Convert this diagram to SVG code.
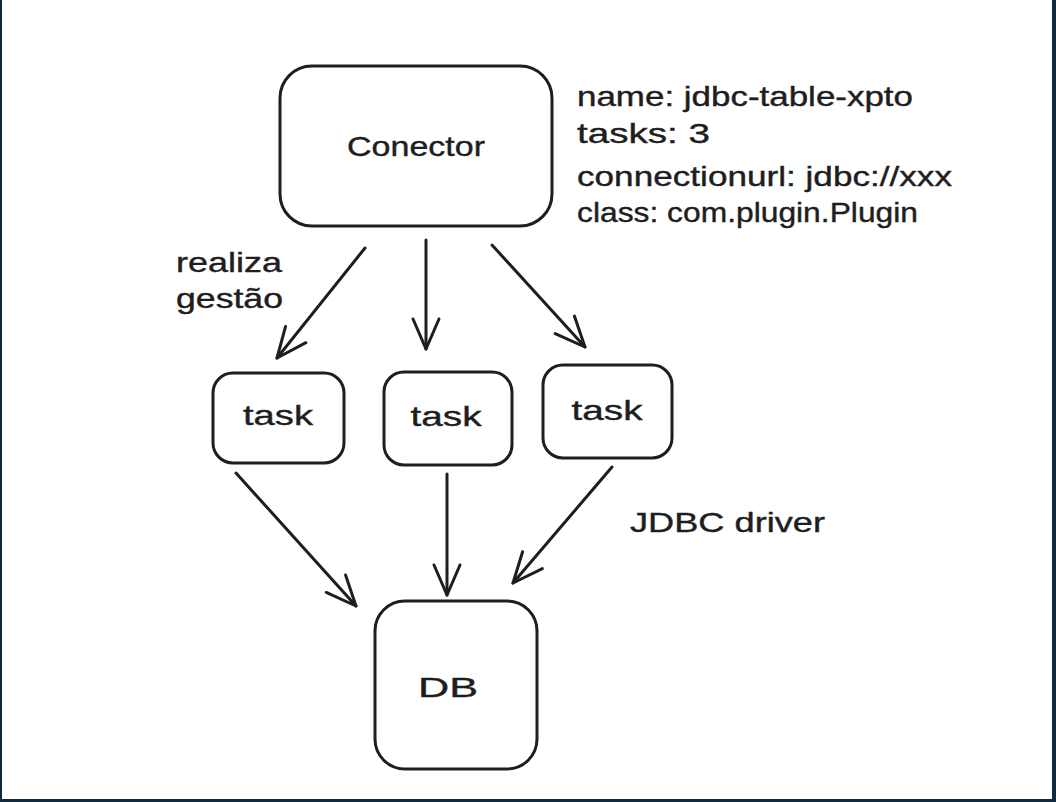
<svg xmlns="http://www.w3.org/2000/svg" width="1056" height="802" viewBox="0 0 1056 802">
<style>
.box{fill:#fff;stroke:#1e1e1e;stroke-width:3}
.t{font-family:"Liberation Sans",Arial,sans-serif;font-size:28px;fill:#1e1e1e;stroke:#1e1e1e;stroke-width:0.4}
.c{text-anchor:middle}
.edge{stroke:#1e1e1e;stroke-width:3;fill:none;stroke-linecap:round}
</style>
<defs>
<marker id="arr" markerUnits="userSpaceOnUse" markerWidth="60" markerHeight="60" viewBox="-40 -30 60 60" refX="0" refY="0" orient="auto" overflow="visible">
<path d="M-30,-13 L0,0 L-30,13" fill="none" stroke="#1e1e1e" stroke-width="3" stroke-linecap="round" stroke-linejoin="round"/>
</marker>
</defs>
<rect x="0" y="0" width="1056" height="802" fill="#fff"/>
<rect x="0" y="0" width="2" height="802" fill="#0f2a3e"/>
<rect x="1052" y="0" width="4" height="802" fill="#0f2a3e"/>
<rect x="0" y="799" width="1056" height="3" fill="#0f2a3e"/>

<g id="connectors">
<line class="edge" x1="365" y1="248" x2="277" y2="358" marker-end="url(#arr)"/>
<line class="edge" x1="426" y1="240" x2="426" y2="349" marker-end="url(#arr)"/>
<line class="edge" x1="492" y1="245" x2="585" y2="347" marker-end="url(#arr)"/>
<line class="edge" x1="236" y1="473" x2="356" y2="606" marker-end="url(#arr)"/>
<line class="edge" x1="447" y1="474" x2="447" y2="595" marker-end="url(#arr)"/>
<line class="edge" x1="612" y1="467" x2="513" y2="583" marker-end="url(#arr)"/>
</g>

<g id="conector">
<rect class="box" x="280" y="66" width="272" height="160" rx="32"/>
<text class="t c" x="416" y="156" textLength="138" lengthAdjust="spacingAndGlyphs">Conector</text>
</g>

<g id="props">
<text class="t" x="577" y="106" textLength="336" lengthAdjust="spacingAndGlyphs">name: jdbc-table-xpto</text>
<text class="t" x="577" y="143" textLength="133" lengthAdjust="spacingAndGlyphs">tasks: 3</text>
<text class="t" x="577" y="186" textLength="375" lengthAdjust="spacingAndGlyphs">connectionurl: jdbc://xxx</text>
<text class="t" x="577" y="222" textLength="341" lengthAdjust="spacingAndGlyphs">class: com.plugin.Plugin</text>
</g>

<g id="label-gestao">
<text class="t" x="176" y="272" textLength="106" lengthAdjust="spacingAndGlyphs">realiza</text>
<text class="t" x="176" y="308" textLength="107" lengthAdjust="spacingAndGlyphs">gestão</text>
</g>

<g id="task1">
<rect class="box" x="213" y="373" width="131" height="90" rx="20"/>
<text class="t c" x="278" y="425" textLength="70" lengthAdjust="spacingAndGlyphs">task</text>
</g>
<g id="task2">
<rect class="box" x="384" y="372" width="128" height="93" rx="20"/>
<text class="t c" x="446" y="426" textLength="71" lengthAdjust="spacingAndGlyphs">task</text>
</g>
<g id="task3">
<rect class="box" x="543" y="365" width="129" height="93" rx="20"/>
<text class="t c" x="607" y="420" textLength="71" lengthAdjust="spacingAndGlyphs">task</text>
</g>

<g id="label-jdbc">
<text class="t" x="630" y="532" textLength="195" lengthAdjust="spacingAndGlyphs">JDBC driver</text>
</g>

<g id="db">
<rect class="box" x="375" y="601" width="162" height="168" rx="30"/>
<text class="t c" x="448" y="697" textLength="60" lengthAdjust="spacingAndGlyphs">DB</text>
</g>
</svg>
